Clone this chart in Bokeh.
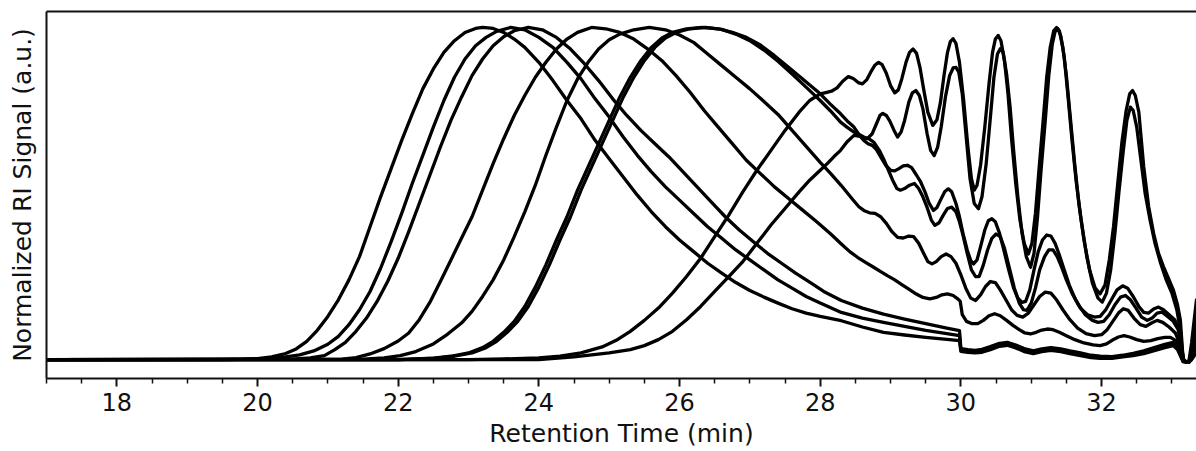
from bokeh.plotting import figure
from bokeh.models import LinearAxis, FixedTicker
from bokeh.embed import file_html
from bokeh.resources import INLINE

# ---- values: (retention time in min, normalized RI signal) ----
trace_a = [(17.0, 0), (19.5, 0), (19.8, 0.001), (20.0, 0.003), (20.2, 0.008), (20.4, 0.018), (20.55, 0.032),
           (20.7, 0.055), (20.85, 0.088), (21.0, 0.13), (21.15, 0.18), (21.3, 0.24), (21.45, 0.31), (21.6, 0.40),
           (21.75, 0.49), (21.9, 0.575), (22.05, 0.66), (22.2, 0.74), (22.35, 0.815), (22.5, 0.875),
           (22.65, 0.925), (22.8, 0.96), (22.95, 0.985), (23.1, 0.997), (23.2, 1.0), (23.35, 0.997),
           (23.5, 0.985), (23.65, 0.965), (23.8, 0.94), (24.0, 0.895), (24.2, 0.84), (24.4, 0.78), (24.6, 0.725),
           (24.8, 0.66), (25.0, 0.605), (25.2, 0.55), (25.4, 0.495), (25.6, 0.445), (25.8, 0.40), (26.0, 0.36),
           (26.2, 0.325), (26.4, 0.29), (26.6, 0.26), (26.8, 0.232), (27.0, 0.208), (27.2, 0.188), (27.4, 0.17),
           (27.6, 0.153), (27.8, 0.14), (28.0, 0.13), (28.3, 0.117), (28.6, 0.098), (28.9, 0.082), (29.2, 0.074),
           (29.5, 0.067), (29.8, 0.061), (29.98, 0.057), (30.0, 0.025), (30.1, 0.022), (30.2, 0.020),
           (30.3, 0.022), (30.42, 0.03), (30.55, 0.04), (30.66, 0.043), (30.78, 0.035), (30.9, 0.024),
           (31.03, 0.018), (31.15, 0.024), (31.28, 0.028), (31.42, 0.024), (31.55, 0.018), (31.7, 0.012),
           (31.85, 0.006), (31.98, 0.004), (32.15, 0.004), (32.3, 0.008), (32.45, 0.012), (32.6, 0.018),
           (32.75, 0.027), (32.9, 0.036), (33.02, 0.042), (33.08, 0.03), (33.12, 0.012), (33.16, -0.006),
           (33.24, -0.008), (33.28, 0.0), (33.35, 0.03)]

trace_b = [(17.0, 0), (20.0, 0.001), (20.2, 0.004), (20.4, 0.008), (20.6, 0.014), (20.8, 0.026), (21.0, 0.046),
           (21.15, 0.07), (21.3, 0.105), (21.45, 0.15), (21.6, 0.205), (21.75, 0.275), (21.9, 0.355),
           (22.05, 0.44), (22.2, 0.53), (22.35, 0.615), (22.5, 0.70), (22.65, 0.78), (22.8, 0.85), (22.95, 0.905),
           (23.1, 0.945), (23.25, 0.97), (23.4, 0.988), (23.6, 1.0), (23.8, 0.993), (24.0, 0.97), (24.2, 0.94),
           (24.4, 0.895), (24.6, 0.845), (24.8, 0.785), (25.0, 0.73), (25.2, 0.67), (25.4, 0.615), (25.6, 0.565),
           (25.8, 0.52), (26.0, 0.48), (26.2, 0.44), (26.4, 0.40), (26.6, 0.365), (26.8, 0.33), (27.0, 0.30),
           (27.2, 0.27), (27.4, 0.24), (27.6, 0.215), (27.8, 0.19), (28.0, 0.17), (28.3, 0.142), (28.6, 0.125),
           (28.9, 0.112), (29.2, 0.10), (29.5, 0.088), (29.8, 0.078), (29.98, 0.072), (30.0, 0.028),
           (30.1, 0.025), (30.2, 0.023), (30.3, 0.026), (30.42, 0.034), (30.55, 0.044), (30.66, 0.047),
           (30.78, 0.039), (30.9, 0.028), (31.03, 0.021), (31.15, 0.027), (31.28, 0.031), (31.42, 0.027),
           (31.55, 0.021), (31.7, 0.015), (31.85, 0.009), (31.98, 0.006), (32.15, 0.006), (32.3, 0.01),
           (32.45, 0.015), (32.6, 0.021), (32.75, 0.03), (32.9, 0.04), (33.02, 0.046), (33.08, 0.034),
           (33.12, 0.014), (33.16, -0.006), (33.24, -0.008), (33.28, 0.0), (33.35, 0.02)]

trace_c = [(17.0, 0), (20.5, 0.001), (20.75, 0.005), (20.95, 0.012), (21.1, 0.03), (21.25, 0.052), (21.4, 0.085),
           (21.55, 0.125), (21.7, 0.175), (21.85, 0.235), (22.0, 0.305), (22.15, 0.385), (22.3, 0.47),
           (22.45, 0.555), (22.6, 0.64), (22.75, 0.72), (22.9, 0.79), (23.05, 0.855), (23.2, 0.905),
           (23.35, 0.945), (23.5, 0.972), (23.65, 0.99), (23.85, 1.0), (24.05, 0.993), (24.25, 0.97),
           (24.45, 0.935), (24.65, 0.89), (24.85, 0.84), (25.05, 0.785), (25.25, 0.735), (25.45, 0.69),
           (25.65, 0.65), (25.85, 0.61), (26.05, 0.565), (26.25, 0.52), (26.45, 0.475), (26.65, 0.43),
           (26.85, 0.39), (27.05, 0.355), (27.25, 0.32), (27.45, 0.29), (27.65, 0.26), (27.85, 0.233),
           (28.05, 0.205), (28.3, 0.178), (28.6, 0.155), (28.9, 0.137), (29.2, 0.122), (29.5, 0.108),
           (29.8, 0.095), (29.98, 0.087), (30.0, 0.033), (30.1, 0.03), (30.2, 0.028), (30.3, 0.031),
           (30.42, 0.039), (30.55, 0.049), (30.66, 0.052), (30.78, 0.044), (30.9, 0.033), (31.03, 0.026),
           (31.15, 0.032), (31.28, 0.036), (31.42, 0.032), (31.55, 0.026), (31.7, 0.02), (31.85, 0.013),
           (31.98, 0.01), (32.15, 0.009), (32.3, 0.013), (32.45, 0.019), (32.6, 0.026), (32.75, 0.036),
           (32.9, 0.046), (33.02, 0.052), (33.08, 0.038), (33.12, 0.016), (33.16, -0.005), (33.24, -0.008),
           (33.28, 0.005), (33.35, 0.04)]

trace_d = [(17.0, 0), (21.2, 0.001), (21.4, 0.006), (21.6, 0.017), (21.8, 0.033), (22.0, 0.056), (22.15, 0.08),
           (22.3, 0.12), (22.45, 0.172), (22.6, 0.235), (22.75, 0.30), (22.9, 0.365), (23.05, 0.43), (23.2, 0.51),
           (23.35, 0.59), (23.5, 0.665), (23.65, 0.735), (23.8, 0.795), (23.95, 0.85), (24.1, 0.895),
           (24.25, 0.935), (24.4, 0.965), (24.55, 0.985), (24.75, 1.0), (24.95, 0.996), (25.15, 0.985),
           (25.35, 0.965), (25.55, 0.935), (25.75, 0.90), (25.95, 0.855), (26.15, 0.805), (26.35, 0.75),
           (26.55, 0.70), (26.75, 0.65), (26.95, 0.60), (27.15, 0.56), (27.35, 0.52), (27.55, 0.485),
           (27.75, 0.45), (27.95, 0.415), (28.15, 0.378), (28.3, 0.348), (28.42, 0.325), (28.53, 0.308),
           (28.65, 0.292), (28.76, 0.278), (28.86, 0.265), (28.96, 0.252), (29.06, 0.24), (29.16, 0.226),
           (29.26, 0.212), (29.36, 0.198), (29.46, 0.187), (29.56, 0.183), (29.65, 0.187), (29.73, 0.195),
           (29.81, 0.198), (29.89, 0.193), (29.96, 0.182), (29.99, 0.176), (30.02, 0.135), (30.08, 0.115),
           (30.16, 0.108), (30.24, 0.108), (30.32, 0.118), (30.40, 0.132), (30.48, 0.138), (30.56, 0.132),
           (30.65, 0.118), (30.74, 0.103), (30.83, 0.09), (30.91, 0.08), (30.99, 0.077), (31.07, 0.082),
           (31.15, 0.089), (31.23, 0.092), (31.31, 0.09), (31.40, 0.082), (31.50, 0.072), (31.62, 0.06),
           (31.75, 0.05), (31.88, 0.044), (31.98, 0.042), (32.07, 0.047), (32.15, 0.058), (32.24, 0.068),
           (32.32, 0.072), (32.40, 0.068), (32.50, 0.06), (32.60, 0.055), (32.70, 0.057), (32.80, 0.063),
           (32.90, 0.067), (32.98, 0.067), (33.05, 0.058), (33.10, 0.04), (33.14, 0.01), (33.17, -0.005),
           (33.24, -0.008), (33.28, 0.01), (33.35, 0.04)]

trace_e = [(17.0, 0), (21.5, 0.001), (21.8, 0.005), (22.03, 0.012), (22.25, 0.024), (22.5, 0.047), (22.7, 0.076),
           (22.9, 0.11), (23.05, 0.145), (23.2, 0.19), (23.35, 0.24), (23.5, 0.30), (23.65, 0.37), (23.8, 0.445),
           (23.95, 0.525), (24.1, 0.615), (24.25, 0.70), (24.4, 0.78), (24.55, 0.845), (24.7, 0.895),
           (24.85, 0.935), (25.0, 0.963), (25.15, 0.98), (25.35, 0.993), (25.57, 1.0), (25.8, 0.993),
           (26.0, 0.977), (26.2, 0.955), (26.4, 0.92), (26.6, 0.885), (26.8, 0.85), (27.0, 0.815),
           (27.2, 0.777), (27.4, 0.738), (27.6, 0.69), (27.8, 0.642), (28.0, 0.594), (28.15, 0.56),
           (28.30, 0.524), (28.45, 0.485), (28.55, 0.46), (28.62, 0.449), (28.70, 0.442), (28.78, 0.44),
           (28.86, 0.43), (28.94, 0.41), (29.02, 0.385), (29.10, 0.368), (29.18, 0.366), (29.26, 0.372),
           (29.33, 0.37), (29.40, 0.35), (29.47, 0.32), (29.53, 0.295), (29.59, 0.288), (29.65, 0.295),
           (29.72, 0.31), (29.79, 0.318), (29.86, 0.31), (29.93, 0.29), (30.00, 0.255), (30.07, 0.215),
           (30.14, 0.185), (30.21, 0.178), (30.28, 0.195), (30.35, 0.22), (30.42, 0.235), (30.49, 0.232),
           (30.56, 0.21), (30.64, 0.18), (30.72, 0.15), (30.80, 0.133), (30.88, 0.128), (30.96, 0.14),
           (31.04, 0.165), (31.12, 0.19), (31.20, 0.203), (31.28, 0.20), (31.36, 0.18), (31.45, 0.15),
           (31.55, 0.12), (31.66, 0.095), (31.78, 0.078), (31.90, 0.072), (32.00, 0.075), (32.08, 0.09),
           (32.16, 0.115), (32.24, 0.14), (32.31, 0.153), (32.38, 0.148), (32.46, 0.125), (32.55, 0.105),
           (32.63, 0.10), (32.71, 0.11), (32.79, 0.118), (32.87, 0.112), (32.96, 0.098), (33.05, 0.08),
           (33.11, 0.05), (33.15, 0.01), (33.18, -0.005), (33.24, -0.008), (33.28, 0.01), (33.35, 0.05)]

trace_f = [(17.0, 0), (22.0, 0.0), (22.5, 0.004), (22.75, 0.01), (23.0, 0.02), (23.2, 0.036), (23.35, 0.055),
           (23.5, 0.082), (23.65, 0.115), (23.8, 0.16), (23.95, 0.218), (24.1, 0.285), (24.25, 0.36),
           (24.4, 0.43), (24.55, 0.51), (24.7, 0.58), (24.85, 0.65), (25.0, 0.72), (25.15, 0.79), (25.3, 0.85),
           (25.45, 0.90), (25.6, 0.94), (25.75, 0.968), (25.9, 0.985), (26.1, 0.996), (26.32, 1.0),
           (26.55, 0.996), (26.75, 0.985), (26.95, 0.97), (27.15, 0.947), (27.35, 0.915), (27.55, 0.88),
           (27.72, 0.85), (27.89, 0.82), (28.00, 0.80), (28.14, 0.77), (28.29, 0.74), (28.40, 0.715),
           (28.48, 0.70), (28.56, 0.675), (28.62, 0.66), (28.68, 0.65), (28.74, 0.645), (28.80, 0.632),
           (28.86, 0.61), (28.93, 0.585), (29.00, 0.57), (29.06, 0.568), (29.12, 0.575), (29.18, 0.583),
           (29.24, 0.585), (29.30, 0.578), (29.37, 0.555), (29.43, 0.534), (29.49, 0.505), (29.55, 0.47),
           (29.61, 0.449), (29.66, 0.458), (29.71, 0.48), (29.77, 0.505), (29.82, 0.514), (29.87, 0.505),
           (29.93, 0.47), (29.98, 0.43), (30.03, 0.38), (30.09, 0.33), (30.14, 0.298), (30.18, 0.288),
           (30.23, 0.30), (30.28, 0.34), (30.34, 0.39), (30.39, 0.418), (30.44, 0.424), (30.49, 0.415),
           (30.55, 0.38), (30.61, 0.33), (30.68, 0.27), (30.75, 0.215), (30.81, 0.185), (30.87, 0.172),
           (30.92, 0.175), (30.98, 0.21), (31.04, 0.27), (31.10, 0.325), (31.16, 0.36), (31.22, 0.375),
           (31.28, 0.372), (31.34, 0.35), (31.40, 0.315), (31.47, 0.27), (31.54, 0.225), (31.62, 0.185),
           (31.70, 0.155), (31.80, 0.135), (31.90, 0.128), (31.98, 0.13), (32.06, 0.15), (32.14, 0.18),
           (32.22, 0.21), (32.30, 0.222), (32.37, 0.215), (32.45, 0.19), (32.53, 0.16), (32.60, 0.142),
           (32.67, 0.14), (32.74, 0.152), (32.81, 0.158), (32.88, 0.15), (32.96, 0.135), (33.04, 0.12),
           (33.10, 0.09), (33.14, 0.03), (33.17, -0.005), (33.24, -0.008), (33.28, 0.02), (33.35, 0.09)]

trace_g = [(17.0, 0), (22.0, 0.0), (22.55, 0.004), (22.8, 0.01), (23.05, 0.02), (23.25, 0.036), (23.4, 0.055),
           (23.55, 0.082), (23.7, 0.115), (23.85, 0.16), (24.0, 0.218), (24.15, 0.285), (24.3, 0.36),
           (24.45, 0.43), (24.6, 0.51), (24.75, 0.58), (24.9, 0.65), (25.05, 0.72), (25.2, 0.79), (25.35, 0.85),
           (25.5, 0.90), (25.65, 0.94), (25.8, 0.968), (25.95, 0.985), (26.15, 0.996), (26.37, 1.0),
           (26.6, 0.994), (26.8, 0.98), (27.0, 0.96), (27.2, 0.932), (27.4, 0.898), (27.6, 0.86), (27.75, 0.83),
           (27.9, 0.80), (28.00, 0.78), (28.14, 0.75), (28.29, 0.715), (28.38, 0.70), (28.48, 0.685),
           (28.56, 0.677), (28.62, 0.67), (28.69, 0.665), (28.76, 0.655), (28.84, 0.63), (28.91, 0.60),
           (28.97, 0.57), (29.03, 0.54), (29.09, 0.515), (29.14, 0.51), (29.20, 0.515), (29.27, 0.525),
           (29.34, 0.53), (29.40, 0.515), (29.46, 0.49), (29.52, 0.458), (29.58, 0.42), (29.63, 0.404),
           (29.69, 0.412), (29.75, 0.435), (29.81, 0.455), (29.87, 0.459), (29.93, 0.445), (29.98, 0.415),
           (30.03, 0.375), (30.09, 0.32), (30.15, 0.27), (30.21, 0.25), (30.26, 0.25), (30.32, 0.285),
           (30.38, 0.33), (30.44, 0.365), (30.50, 0.378), (30.56, 0.37), (30.62, 0.335), (30.69, 0.275),
           (30.76, 0.215), (30.83, 0.17), (30.89, 0.15), (30.94, 0.148), (31.00, 0.17), (31.06, 0.215),
           (31.12, 0.27), (31.19, 0.31), (31.25, 0.33), (31.31, 0.33), (31.37, 0.31), (31.43, 0.28),
           (31.50, 0.24), (31.58, 0.20), (31.67, 0.165), (31.77, 0.135), (31.87, 0.118), (31.95, 0.112),
           (32.03, 0.115), (32.11, 0.135), (32.19, 0.165), (32.27, 0.188), (32.34, 0.193), (32.41, 0.18),
           (32.49, 0.155), (32.57, 0.128), (32.65, 0.118), (32.72, 0.125), (32.79, 0.14), (32.86, 0.143),
           (32.94, 0.13), (33.02, 0.115), (33.09, 0.09), (33.14, 0.03), (33.17, -0.005), (33.24, -0.008),
           (33.28, 0.015), (33.35, 0.06)]

trace_h = [(17.0, 0), (23.0, 0.0), (23.5, 0.002), (24.0, 0.005), (24.3, 0.01), (24.6, 0.02), (24.9, 0.038),
           (25.1, 0.058), (25.3, 0.085), (25.5, 0.118), (25.7, 0.155), (25.9, 0.20), (26.1, 0.25), (26.3, 0.305),
           (26.5, 0.37), (26.7, 0.435), (26.9, 0.505), (27.1, 0.57), (27.3, 0.63), (27.5, 0.69), (27.7, 0.745),
           (27.85, 0.78), (28.00, 0.80), (28.08, 0.804), (28.16, 0.808), (28.24, 0.818), (28.32, 0.838),
           (28.40, 0.852), (28.47, 0.846), (28.54, 0.834), (28.60, 0.83), (28.66, 0.842), (28.72, 0.866),
           (28.78, 0.887), (28.83, 0.895), (28.88, 0.888), (28.94, 0.862), (29.00, 0.825), (29.06, 0.803),
           (29.11, 0.812), (29.16, 0.845), (29.22, 0.895), (29.27, 0.925), (29.32, 0.935), (29.37, 0.922),
           (29.42, 0.878), (29.47, 0.815), (29.53, 0.745), (29.60, 0.705), (29.66, 0.722), (29.71, 0.775),
           (29.76, 0.855), (29.81, 0.925), (29.85, 0.957), (29.89, 0.966), (29.93, 0.952), (29.98, 0.895),
           (30.04, 0.78), (30.10, 0.64), (30.15, 0.545), (30.19, 0.51), (30.23, 0.525), (30.28, 0.585),
           (30.34, 0.70), (30.40, 0.83), (30.45, 0.925), (30.49, 0.965), (30.53, 0.976), (30.57, 0.96),
           (30.62, 0.90), (30.67, 0.80), (30.72, 0.665), (30.78, 0.53), (30.84, 0.42), (30.90, 0.35),
           (30.96, 0.318), (31.01, 0.35), (31.06, 0.44), (31.11, 0.57), (31.17, 0.72), (31.22, 0.85),
           (31.27, 0.94), (31.32, 0.99), (31.36, 1.0), (31.40, 0.99), (31.45, 0.94), (31.50, 0.855),
           (31.56, 0.72), (31.62, 0.585), (31.68, 0.465), (31.75, 0.36), (31.83, 0.27), (31.91, 0.215),
           (31.98, 0.198), (32.05, 0.225), (32.11, 0.30), (32.17, 0.40), (32.23, 0.53), (32.29, 0.655),
           (32.35, 0.75), (32.40, 0.80), (32.44, 0.81), (32.48, 0.795), (32.53, 0.745), (32.60, 0.58),
           (32.67, 0.46), (32.74, 0.38), (32.81, 0.32), (32.88, 0.28), (32.95, 0.245), (33.02, 0.21),
           (33.08, 0.165), (33.12, 0.12), (33.14, 0.06), (33.16, 0.0), (33.20, -0.008), (33.24, -0.008),
           (33.28, 0.05), (33.35, 0.18)]

trace_i = [(17.0, 0), (24.0, 0.0), (24.5, 0.008), (25.0, 0.02), (25.3, 0.03), (25.5, 0.042), (25.7, 0.06),
           (25.9, 0.085), (26.1, 0.12), (26.3, 0.16), (26.5, 0.205), (26.7, 0.25), (26.9, 0.295), (27.1, 0.35),
           (27.3, 0.405), (27.5, 0.455), (27.7, 0.505), (27.85, 0.54), (28.00, 0.57), (28.10, 0.59),
           (28.20, 0.612), (28.29, 0.63), (28.38, 0.655), (28.48, 0.675), (28.57, 0.672), (28.67, 0.665),
           (28.74, 0.68), (28.80, 0.71), (28.85, 0.735), (28.89, 0.741), (28.94, 0.735), (28.99, 0.718),
           (29.05, 0.69), (29.10, 0.67), (29.15, 0.685), (29.20, 0.72), (29.26, 0.775), (29.31, 0.803),
           (29.36, 0.81), (29.41, 0.795), (29.46, 0.755), (29.52, 0.68), (29.57, 0.63), (29.62, 0.614),
           (29.67, 0.64), (29.72, 0.70), (29.78, 0.79), (29.84, 0.855), (29.89, 0.878), (29.93, 0.88),
           (29.97, 0.865), (30.02, 0.80), (30.08, 0.66), (30.13, 0.545), (30.19, 0.47), (30.25, 0.454),
           (30.30, 0.49), (30.36, 0.59), (30.42, 0.73), (30.47, 0.85), (30.52, 0.92), (30.56, 0.936),
           (30.60, 0.925), (30.65, 0.86), (30.70, 0.76), (30.75, 0.63), (30.81, 0.49), (30.87, 0.38),
           (30.93, 0.31), (30.99, 0.278), (31.04, 0.32), (31.09, 0.43), (31.14, 0.57), (31.20, 0.72),
           (31.25, 0.855), (31.30, 0.95), (31.34, 0.988), (31.38, 0.996), (31.42, 0.975), (31.47, 0.91),
           (31.52, 0.80), (31.58, 0.66), (31.64, 0.535), (31.71, 0.42), (31.79, 0.31), (31.87, 0.23),
           (31.95, 0.185), (32.01, 0.173), (32.07, 0.20), (32.13, 0.27), (32.19, 0.38), (32.25, 0.51),
           (32.31, 0.63), (32.36, 0.72), (32.41, 0.76), (32.45, 0.75), (32.50, 0.70), (32.56, 0.60),
           (32.62, 0.50), (32.69, 0.42), (32.76, 0.35), (32.84, 0.29), (32.92, 0.24), (33.00, 0.20),
           (33.07, 0.15), (33.12, 0.09), (33.16, 0.0), (33.20, -0.008), (33.24, -0.008), (33.28, 0.03),
           (33.35, 0.12)]

x_ticks = [18, 20, 22, 24, 26, 28, 30, 32]
x_minor = [17.0, 17.5, 18.5, 19.0, 19.5, 20.5, 21.0, 21.5, 22.5, 23.0, 23.5, 24.5, 25.0, 25.5,
           26.5, 27.0, 27.5, 28.5, 29.0, 29.5, 30.5, 31.0, 31.5, 32.5, 33.0]
x_label = "Retention Time (min)"
y_label = "Normalized RI Signal (a.u.)"

traces = [trace_a, trace_b, trace_c, trace_d, trace_e, trace_f, trace_g, trace_h, trace_i]

FONT = "DejaVu Sans"
INK = "#111111"

p = figure(width=1196, height=451, x_range=(17.0, 33.35), y_range=(-0.057, 1.048),
           output_backend="svg", toolbar_location=None,
           min_border_left=46, min_border_right=0, min_border_top=11, min_border_bottom=73)
p.background_fill_color = "white"
p.border_fill_color = "white"
p.outline_line_color = None
p.xgrid.visible = False
p.ygrid.visible = False

for tr in traces:
    xs = [pt[0] for pt in tr]
    ys = [pt[1] for pt in tr]
    p.line(xs, ys, line_color="black", line_width=3.3, line_join="round", line_cap="round")

# bottom axis
xa = p.xaxis[0]
xa.ticker = FixedTicker(ticks=x_ticks, minor_ticks=x_minor)
xa.axis_label = x_label
xa.axis_label_text_font = FONT
xa.axis_label_text_font_size = "25px"
xa.axis_label_text_font_style = "normal"
xa.axis_label_text_color = INK
xa.axis_label_standoff = 5
xa.major_label_text_font = FONT
xa.major_label_text_font_size = "24px"
xa.major_label_text_color = INK
xa.major_label_standoff = 6
xa.axis_line_width = 2
xa.axis_line_color = INK
xa.major_tick_line_width = 2
xa.major_tick_line_color = INK
xa.minor_tick_line_width = 1.5
xa.minor_tick_line_color = INK
xa.major_tick_in = 0
xa.major_tick_out = 8
xa.minor_tick_in = 0
xa.minor_tick_out = 5

# left axis: only the spine and the label
ya = p.yaxis[0]
ya.ticker = FixedTicker(ticks=[])
ya.axis_label = y_label
ya.axis_label_text_font = FONT
ya.axis_label_text_font_size = "25px"
ya.axis_label_text_font_style = "normal"
ya.axis_label_text_color = INK
ya.axis_label_standoff = 10
ya.major_label_standoff = 0
ya.major_tick_in = 0
ya.major_tick_out = 0
ya.minor_tick_in = 0
ya.minor_tick_out = 0
ya.axis_line_width = 2
ya.axis_line_color = INK

# top spine
top = LinearAxis(ticker=FixedTicker(ticks=[]), major_tick_in=0, major_tick_out=0,
                 minor_tick_in=0, minor_tick_out=0, major_label_standoff=0,
                 axis_line_width=2, axis_line_color=INK)
p.add_layout(top, "above")

open("out.html", "w").write(file_html(p, INLINE))
